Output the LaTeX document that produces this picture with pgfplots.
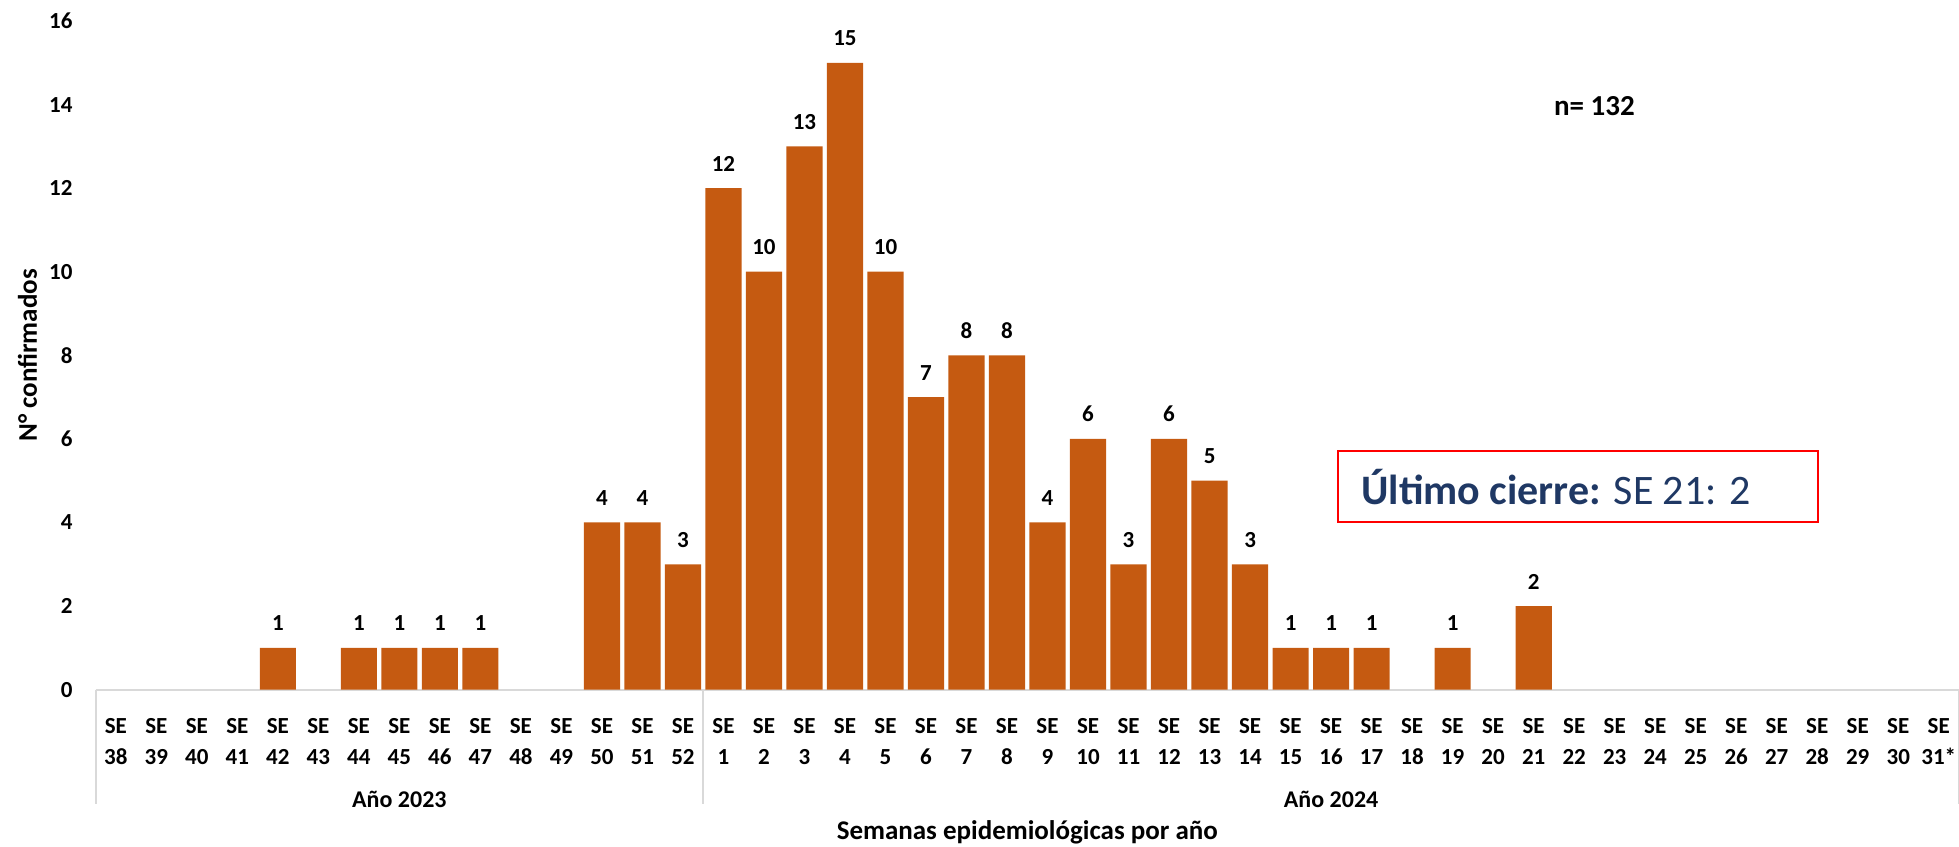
\documentclass[border=0pt]{standalone}
\usepackage{fontspec}
\setmainfont{Carlito}
\usepackage{pgfplots}
\pgfplotsset{compat=1.18}
\usepackage{pgfplotstable}
\definecolor{barc}{HTML}{C55A11}
\definecolor{navy}{HTML}{1F3864}
\definecolor{axgray}{HTML}{D9D9D9}

\pgfplotstableread{
x y
0 0
1 0
2 0
3 0
4 1
5 0
6 1
7 1
8 1
9 1
10 0
11 0
12 4
13 4
14 3
15 12
16 10
17 13
18 15
19 10
20 7
21 8
22 8
23 4
24 6
25 3
26 6
27 5
28 3
29 1
30 1
31 1
32 0
33 1
34 0
35 2
36 0
37 0
38 0
39 0
40 0
41 0
42 0
43 0
44 0
45 0
}\datatable

\begin{document}
\begin{tikzpicture}
\path[use as bounding box] (-47.8pt,-78.5pt) rectangle (932.2pt,345pt);
\begin{axis}[
  at={(0,0)}, anchor=south west,
  scale only axis, width=932.2pt, height=334.5pt,
  xmin=-0.5, xmax=45.5, ymin=0, ymax=16,
  axis x line*=bottom, axis y line*=left,
  x axis line style={draw=axgray, line width=1pt},
  y axis line style={draw=none},
  xtick={0,...,45},
  xticklabels={{SE\\38},{SE\\39},{SE\\40},{SE\\41},{SE\\42},{SE\\43},{SE\\44},{SE\\45},{SE\\46},{SE\\47},{SE\\48},{SE\\49},{SE\\50},{SE\\51},{SE\\52},
    {SE\\1},{SE\\2},{SE\\3},{SE\\4},{SE\\5},{SE\\6},{SE\\7},{SE\\8},{SE\\9},{SE\\10},{SE\\11},{SE\\12},{SE\\13},{SE\\14},{SE\\15},{SE\\16},{SE\\17},{SE\\18},{SE\\19},{SE\\20},{SE\\21},{SE\\22},{SE\\23},{SE\\24},{SE\\25},{SE\\26},{SE\\27},{SE\\28},{SE\\29},{SE\\30},{SE\\31*}},
  ytick={0,2,...,16},
  major tick length=0pt,
  tick style={draw=none},
  tick label style={font=\fontsize{11.5}{15.5}\selectfont\bfseries},
  xticklabel style={align=center, yshift=-11pt},
  yticklabel style={xshift=-8pt},
  /pgf/number format/assume math mode=true,
  ylabel={N° confirmados},
  every axis y label/.style={at={(axis description cs:-0.0365,0.5)}, rotate=90, anchor=center, font=\fontsize{13.5}{15}\selectfont\bfseries},
  ybar, bar width=18.1pt,
  nodes near coords,
  nodes near coords style={font=\fontsize{11.5}{13}\selectfont\bfseries, yshift=5pt, text=black},
  clip=false,
]
\addplot[fill=barc, draw=none, restrict y to domain=0.5:100] table[x=x, y=y] {\datatable};

\draw[axgray, line width=1pt] (axis cs:-0.5,0) -- ([yshift=-57pt]axis cs:-0.5,0);
\draw[axgray, line width=1pt] (axis cs:14.5,0) -- ([yshift=-57pt]axis cs:14.5,0);
\draw[axgray, line width=1pt] (axis cs:45.5,0) -- ([yshift=-57pt]axis cs:45.5,0);
\node[font=\fontsize{12}{14}\selectfont\bfseries] at ([yshift=-55pt]axis cs:7,0) {Año 2023};
\node[font=\fontsize{12}{14}\selectfont\bfseries] at ([yshift=-55pt]axis cs:30,0) {Año 2024};
\node[font=\fontsize{13.5}{15}\selectfont\bfseries] at ([yshift=-71.3pt]axis cs:22.5,0) {Semanas epidemiológicas por año};
\node[font=\fontsize{14.5}{16}\selectfont\bfseries] at (axis cs:36.5,13.97) {n= 132};
\draw[red, line width=1pt] (axis cs:30.18,4.01) rectangle (axis cs:42.01,5.71);
\node[anchor=west, inner sep=0pt, text=navy, font=\fontsize{21}{24}\selectfont] at (axis cs:30.74,4.86) {\textbf{Último cierre:} SE 21: 2};
\end{axis}
\end{tikzpicture}
\end{document}
